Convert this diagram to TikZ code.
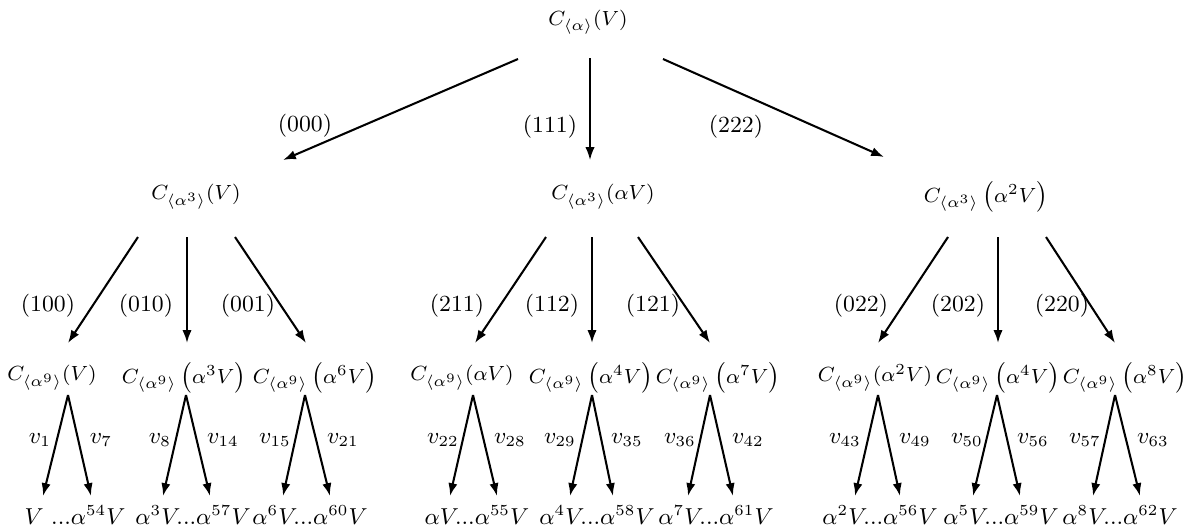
\documentclass[tikz,border=0pt]{standalone}
\usetikzlibrary{arrows.meta}
\begin{document}
\begin{tikzpicture}[x=0.39pt,y=-0.39pt,
  mnode/.style={inner sep=0pt,font=\fontsize{8.5}{10}\selectfont},
  vnode/.style={inner sep=0pt,font=\fontsize{8.6}{10}\selectfont},
  bnode/.style={inner sep=0pt,font=\fontsize{8.6}{10}\selectfont},
  lab/.style={inner sep=0pt,font=\fontsize{9}{11}\selectfont},
  arr/.style={-{Latex[length=5pt,width=3.6pt]},line width=0.8pt},
  arrthin/.style={-{Latex[length=5pt,width=3.6pt]},line width=0.6pt}]
\useasboundingbox (0,0) rectangle (1200,529);
% level 0 and 1
\node[mnode] (r) at (588,22) {$C_{\langle\alpha\rangle}(V)$};
\node[mnode] (a) at (196,197) {$C_{\langle\alpha^3\rangle}(V)$};
\node[mnode] (b) at (603,197) {$C_{\langle\alpha^3\rangle}(\alpha V)$};
\node[mnode] (c) at (986,197) {$C_{\langle\alpha^3\rangle}\left(\alpha^2V\right)$};
\coordinate (r-a) at (518,59);  \coordinate (a-t) at (283,160);
\coordinate (r-b) at (590,58);  \coordinate (b-t) at (590,160);
\coordinate (r-c) at (663,59);  \coordinate (c-t) at (884,157);
\draw[arr] (r-a) -- (a-t);
\draw[arrthin] (r-b) -- (b-t);
\draw[arr] (r-c) -- (c-t);
\node[lab] (l000) at (305,126) {(000)};
\node[lab] (l111) at (550,127) {(111)};
\node[lab] (l222) at (736,127) {(222)};
% level 2
\node[mnode] (a1) at (52,378)  {$C_{\langle\alpha^9\rangle}(V)$};
\node[mnode] (a2) at (184,378) {$C_{\langle\alpha^9\rangle}\left(\alpha^3V\right)$};
\node[mnode] (a3) at (315,378) {$C_{\langle\alpha^9\rangle}\left(\alpha^6V\right)$};
\node[mnode] (b1) at (462,378) {$C_{\langle\alpha^9\rangle}(\alpha V)$};
\node[mnode] (b2) at (591,378) {$C_{\langle\alpha^9\rangle}\left(\alpha^4V\right)$};
\node[mnode] (b3) at (718,378) {$C_{\langle\alpha^9\rangle}\left(\alpha^7V\right)$};
\node[mnode] (c1) at (875,378) {$C_{\langle\alpha^9\rangle}(\alpha^2V)$};
\node[mnode] (c2) at (998,378) {$C_{\langle\alpha^9\rangle}\left(\alpha^4V\right)$};
\node[mnode] (c3) at (1125,378) {$C_{\langle\alpha^9\rangle}\left(\alpha^8V\right)$};
% level 2 arrows
\foreach \n/\sx/\tx/\l/\lx in {a1/138/68/(100)/48, a2/187/187/(010)/146, a3/235/306/(001)/248,
  b1/546/475/(211)/457, b2/592/592/(112)/552, b3/638/710/(121)/653,
  c1/948/878/(022)/861, c2/998/998/(202)/958, c3/1046/1115/(220)/1062}{
  \coordinate (\n-s) at (\sx,237);
  \coordinate (\n-t) at (\tx,343);
  \draw[arr] (\n-s) -- (\n-t);
  \node[lab] (\n-l) at (\lx,306) {\l};
}
% level 3 arrows
\foreach \n/\px/\lt/\rt/\lv/\llx/\rv/\rlx/\btext/\bx in {
  a1/68/43/91/v_{1}/40/v_{7}/101/{V\ ...\alpha^{54}V}/75,
  a2/186/163/210/v_{8}/160/v_{14}/223/{\alpha^3V...\alpha^{57}V}/193,
  a3/305/283/330/v_{15}/275/v_{21}/343/{\alpha^6V...\alpha^{60}V}/310,
  b1/473/450/497/v_{22}/443/v_{28}/510/{\alpha V...\alpha^{55}V}/477,
  b2/592/570/613/v_{29}/560/v_{35}/627/{\alpha^4V...\alpha^{58}V}/597,
  b3/710/688/733/v_{36}/680/v_{42}/748/{\alpha^7V...\alpha^{61}V}/716,
  c1/878/855/900/v_{43}/845/v_{49}/915/{\alpha^2V...\alpha^{56}V}/880,
  c2/997/973/1020/v_{50}/967/v_{56}/1033/{\alpha^5V...\alpha^{59}V}/1001,
  c3/1115/1093/1140/v_{57}/1085/v_{63}/1153/{\alpha^8V...\alpha^{62}V}/1120}{
  \coordinate (\n-p) at (\px,395);
  \coordinate (\n-lt) at (\lt,496);
  \coordinate (\n-rt) at (\rt,496);
  \draw[arr] (\n-p) -- (\n-lt);
  \draw[arr] (\n-p) -- (\n-rt);
  \node[vnode] (\n-vl) at (\llx,440) {$\lv$};
  \node[vnode] (\n-vr) at (\rlx,440) {$\rv$};
  \node[bnode] (\n-b) at (\bx,515) {$\btext$};
}
\end{tikzpicture}
\end{document}
